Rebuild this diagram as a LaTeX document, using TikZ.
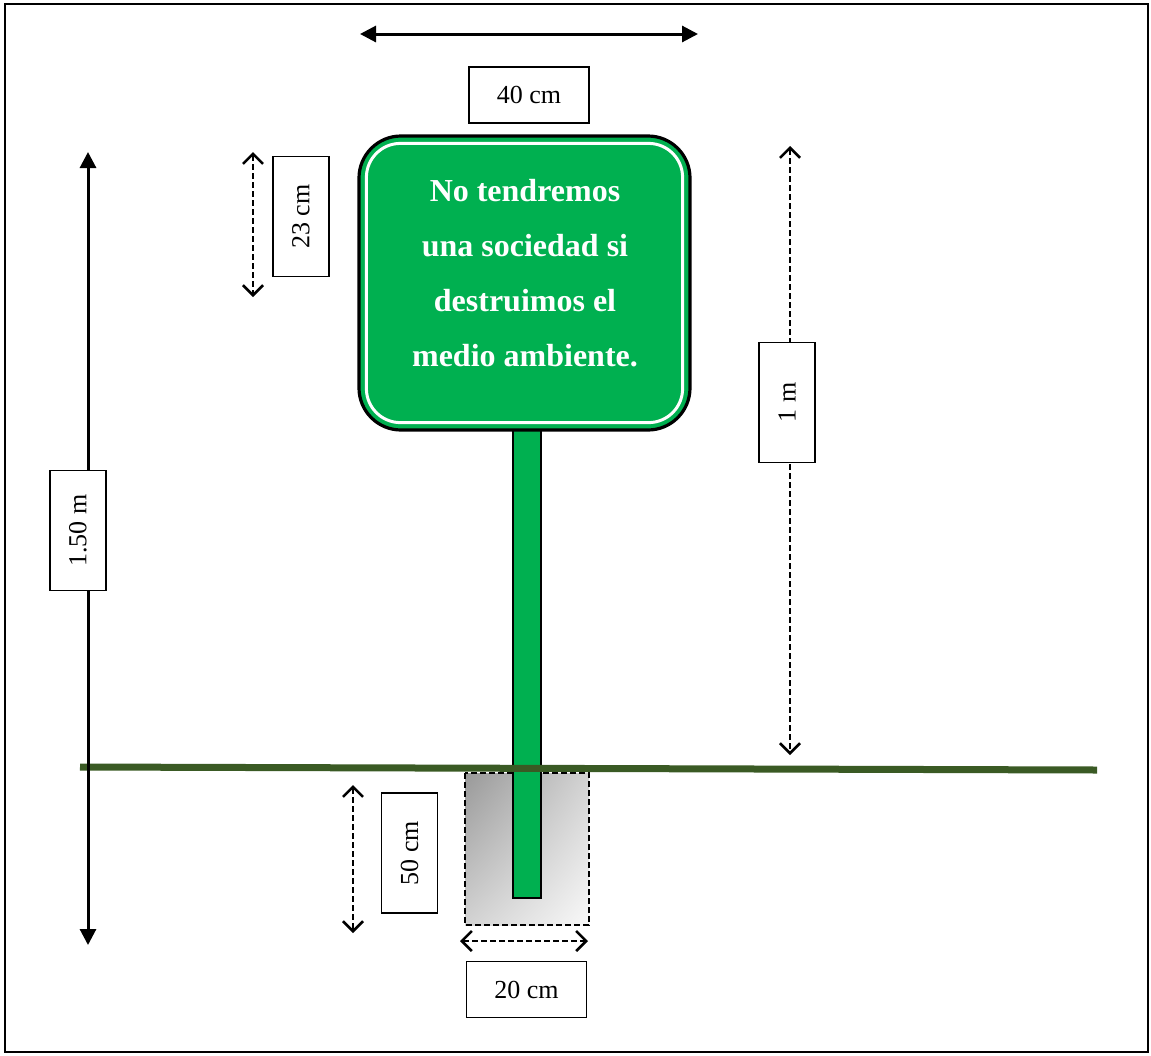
\documentclass[tikz,border=0pt]{standalone}
\usepackage{fontspec}
\setmainfont{Liberation Serif}
\usetikzlibrary{positioning, shapes, shadings, arrows.meta, calc}

\definecolor{signgreen}{RGB}{0,176,80}
\definecolor{groundgreen}{RGB}{58,90,36}

\begin{document}
\begin{tikzpicture}[
    x=0.5pt, y=-0.5pt,
    % Styles
    dimbox/.style={ % White box holding a measure
        rectangle,
        draw,
        fill=white,
        line width=0.6pt,
        minimum width=60pt,
        minimum height=28pt,
        inner sep=0pt,
        font=\fontsize{13}{15}\selectfont
    },
    measure/.style={ % Solid measure arrows
        {Triangle[length=8pt,width=8pt]}-{Triangle[length=8pt,width=8pt]},
        line width=1.5pt
    },
    dashmeasure/.style={ % Dashed measure arrows
        {Straight Barb[length=5pt,width=10pt,line width=1.3pt]}-{Straight Barb[length=5pt,width=10pt,line width=1.3pt]},
        line width=1.3pt,
        dash pattern=on 3pt off 1.5pt
    },
    signtext/.style={
        text=white,
        align=center,
        font=\fontsize{16}{27.5}\selectfont\bfseries
    }
]
    \useasboundingbox (0,0) rectangle (1151,1055);
    \draw[line width=1pt] (5,4) rectangle (1148,1052);

    % Foundation
    \shade[upper left=gray!80, upper right=gray!35, lower left=gray!35, lower right=gray!5]
        (465,773) rectangle (589,925);
    \draw[line width=1.1pt, dash pattern=on 3pt off 1.5pt] (465,773) rectangle (589,925);

    % Post and sign
    \draw[fill=signgreen, line width=1pt] (513,430) rectangle (541,898);
    \node[draw, fill=signgreen, line width=1.6pt, rounded corners=21pt,
        minimum width=165.5pt, minimum height=147pt] (sign) at (524.5,283) {};
    \draw[white, line width=1.5pt, rounded corners=17pt]
        ([shift={(9,9)}]sign.north west) rectangle ([shift={(-9,-9)}]sign.south east);
    \node[signtext] (slogan) at (525,273) {No tendremos\\una sociedad si\\destruimos el\\medio ambiente.};

    % Ground
    \coordinate (g1) at (80,767);
    \coordinate (g2) at (1097,770);
    \draw[groundgreen, line width=3.5pt] (g1) -- (g2);

    % Measure arrows
    \coordinate (w1) at (360,34);
    \coordinate (w2) at (698,34);
    \draw[measure] (w1) -- (w2);
    \coordinate (h1) at (88,152);
    \coordinate (h2) at (88,945);
    \draw[measure] (h1) -- (h2);
    \coordinate (s1) at (253,152);
    \coordinate (s2) at (253,297);
    \draw[dashmeasure] (s1) -- (s2);
    \coordinate (p1) at (790,146);
    \coordinate (p2) at (790,755);
    \draw[dashmeasure] (p1) -- (p2);
    \coordinate (d1) at (353,785);
    \coordinate (d2) at (353,933);
    \draw[dashmeasure] (d1) -- (d2);
    \coordinate (b1) at (460,941);
    \coordinate (b2) at (588,941);
    \draw[dashmeasure] (b1) -- (b2);

    % Dimension labels
    \node[dimbox] (width) at (529,95) {40 cm};
    \node[dimbox] (base) at (526.5,989.5) {20 cm};
    \node[dimbox, rotate=90] (plate) at (301,216.5) {23 cm};
    \node[dimbox, rotate=90] (depth) at (409.5,853) {50 cm};
    \node[dimbox, rotate=90] (above) at (787,402.5) {1 m};
    \node[dimbox, rotate=90] (total) at (78,530.5) {1.50 m};
\end{tikzpicture}
\end{document}
